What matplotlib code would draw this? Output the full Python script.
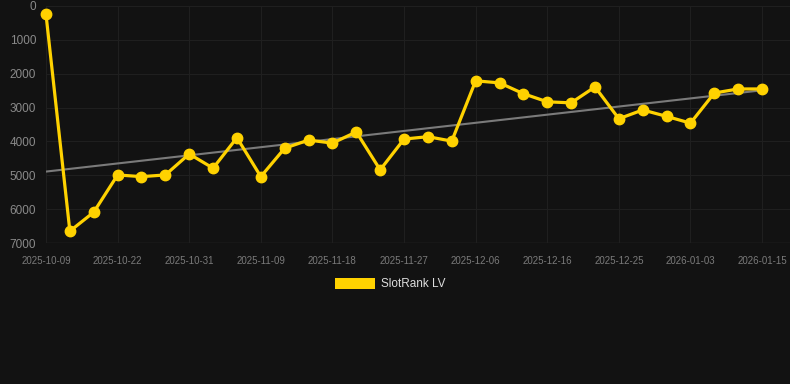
import numpy as np
import matplotlib.pyplot as plt
from matplotlib.patches import Patch

plt.rcParams['font.family'] = ['Liberation Sans', 'DejaVu Sans']

# categories (one per point, every third one is labelled)
dates = ['2025-10-09', '2025-10-17', '2025-10-20', '2025-10-22', '2025-10-25',
         '2025-10-28', '2025-10-31', '2025-11-03', '2025-11-06', '2025-11-09',
         '2025-11-12', '2025-11-15', '2025-11-18', '2025-11-21', '2025-11-24',
         '2025-11-27', '2025-11-30', '2025-12-03', '2025-12-06', '2025-12-09',
         '2025-12-13', '2025-12-16', '2025-12-19', '2025-12-22', '2025-12-25',
         '2025-12-28', '2025-12-31', '2026-01-03', '2026-01-07', '2026-01-11',
         '2026-01-15']
rank = [250, 6650, 6090, 4990, 5040, 4990, 4370, 4790, 3890, 5040,
        4200, 3960, 4050, 3720, 4840, 3930, 3860, 3990, 2210, 2270,
        2590, 2830, 2860, 2390, 3330, 3070, 3260, 3460, 2570, 2450,
        2450]
series_name = 'SlotRank LV'
y_ticks = [0, 1000, 2000, 3000, 4000, 5000, 6000, 7000]

bg = '#121212'
gold = '#FFD200'

fig = plt.figure(figsize=(7.9, 3.84), dpi=100, facecolor=bg)
ax = fig.add_axes([46 / 790, 1 - 243 / 384, 744 / 790, 237 / 384])
ax.set_facecolor(bg)

x = np.arange(len(dates))

# trend line
k, b = np.polyfit(x, rank, 1)
ax.plot(x, k * x + b, color='#7a7a7a', linewidth=1.5, zorder=2)

ax.plot(x, rank, color=gold, linewidth=2.3, marker='o', markersize=7.5,
        clip_on=False, zorder=3)

ax.set_ylim(7000, 0)
ax.set_yticks(y_ticks)
ax.set_xlim(0, 31.17)
ax.set_xticks(x[::3])
ax.set_xticklabels(dates[::3])

ax.grid(True, color='#1f1f1f', linewidth=0.8)
ax.axhline(7000, color='#2e2e2e', linewidth=1, zorder=1)
for s in ax.spines.values():
    s.set_visible(False)
ax.tick_params(axis='both', length=0)
ax.tick_params(axis='y', labelsize=8.5, labelcolor='#8a8a8a', pad=7)
ax.tick_params(axis='x', labelsize=7, labelcolor='#7a7a7a', pad=9)

leg = fig.legend(handles=[Patch(facecolor=gold, label=series_name)],
                 loc='center', bbox_to_anchor=(390 / 790, 1 - 284 / 384),
                 frameon=False, handlelength=3.4, handleheight=1.1,
                 fontsize=8.5, labelcolor='#dddddd', handletextpad=0.5)

fig.savefig('out.png', dpi=100, facecolor=bg)
